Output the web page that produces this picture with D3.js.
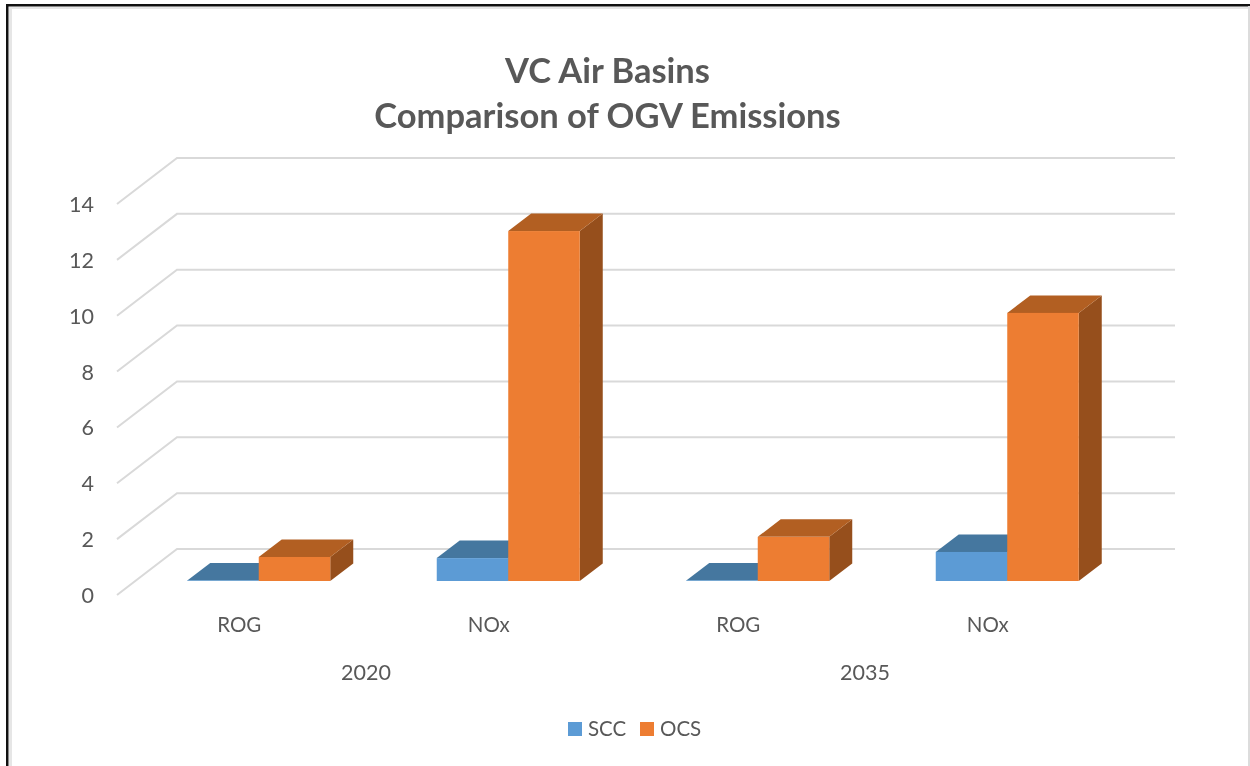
<!DOCTYPE html>
<html><head><meta charset="utf-8">
<script src="https://cdn.jsdelivr.net/npm/d3@7"></script>
<style>html,body{margin:0;padding:0;background:#fff;overflow:hidden}svg{display:block}text{font-family:Lato,"Open Sans",sans-serif}</style>
</head><body><div id="chart"></div>
<script>
const titleLines = ["VC Air Basins", "Comparison of OGV Emissions"];
const categories = ["ROG", "NOx", "ROG", "NOx"];
const years = ["2020", "2035"];
const seriesNames = ["SCC", "OCS"];
const sccValues = [0.02, 0.82, 0.02, 1.04];
const ocsValues = [0.86, 12.53, 1.58, 9.6];
const yTicks = [0, 2, 4, 6, 8, 10, 12, 14];

const W = 1250, H = 766;
const svg = d3.select("#chart").append("svg").attr("width", W).attr("height", H);
const defs = svg.append("defs");
defs.append("filter").attr("id", "soft").append("feGaussianBlur").attr("stdDeviation", 0.6);

// window frame
svg.append("rect").attr("x", 9).attr("y", 7).attr("width", 3).attr("height", H).attr("fill", "#e6e6e6");
svg.append("rect").attr("x", 9).attr("y", 7).attr("width", W).attr("height", 2).attr("fill", "#e6e6e6");
svg.append("rect").attr("x", 6).attr("y", 4).attr("width", W).attr("height", 2.5).attr("fill", "#111");
svg.append("rect").attr("x", 6).attr("y", 4).attr("width", 2.5).attr("height", H).attr("fill", "#111");
svg.append("rect").attr("x", 1248).attr("y", 6).attr("width", 2).attr("height", H).attr("fill", "#dcdcdc");

const g = svg.append("g").attr("filter", "url(#soft)");
const grey = "#595959";

const y = d3.scaleLinear().domain([0, 14]).range([581, 190]);
const x = d3.scaleBand().domain(d3.range(categories.length)).range([134, 1132]);
const barW = 71.5;
const depthX = 23, depthY = 17.5;
const wall = {xFront: 117, xBack: 177, xEnd: 1175, yFront: 14, yBack: -32};

// gridlines: side wall + back wall
g.append("g").selectAll("path").data(yTicks).join("path")
  .attr("fill", "none").attr("stroke", "#d9d9d9").attr("stroke-width", 2)
  .attr("d", v => d3.line()([
    [wall.xFront, y(v) + wall.yFront],
    [wall.xBack, y(v) + wall.yBack],
    [wall.xEnd, y(v) + wall.yBack]
  ]));

// y tick labels
g.append("g").selectAll("text").data(yTicks).join("text")
  .attr("x", 94).attr("text-anchor", "end")
  .attr("y", v => y(v) + 22)
  .attr("fill", grey).attr("font-size", 21.5).text(d => d);

function bar3d(parent, x0, value, front, top, side) {
  const yb = y(0), yt = y(value), x1 = x0 + barW;
  parent.append("path").attr("fill", side)
    .attr("d", d3.line()([[x1, yb], [x1 + depthX, yb - depthY], [x1 + depthX, yt - depthY], [x1, yt]]) + "Z");
  parent.append("path").attr("fill", top)
    .attr("d", d3.line()([[x0, yt], [x0 + depthX, yt - depthY], [x1 + depthX, yt - depthY], [x1, yt]]) + "Z");
  parent.append("rect").attr("x", x0).attr("y", yt).attr("width", barW).attr("height", yb - yt).attr("fill", front);
}

const colors = [
  {front: "#5b9bd5", top: "#44779f", side: "#3f6f9c"},
  {front: "#ed7d31", top: "#b25e20", side: "#964f1c"}
];
const bars = g.append("g");
categories.forEach((c, i) => {
  const center = x(i) + x.bandwidth() / 2;
  bar3d(bars, center - barW, sccValues[i], colors[0].front, colors[0].top, colors[0].side);
  bar3d(bars, center, ocsValues[i], colors[1].front, colors[1].top, colors[1].side);
});

// category labels
g.append("g").selectAll("text").data(categories).join("text")
  .attr("x", (d, i) => x(i) + x.bandwidth() / 2 - 19.5)
  .attr("y", 632).attr("text-anchor", "middle")
  .attr("fill", grey).attr("font-size", 20.5).text(d => d);

// year labels
g.append("g").selectAll("text").data(years).join("text")
  .attr("x", (d, i) => (x(i * 2) + x(i * 2 + 1) + x.bandwidth()) / 2 - 17.5)
  .attr("y", 680).attr("text-anchor", "middle")
  .attr("fill", grey).attr("font-size", 21.5).text(d => d);

// title
g.append("g").selectAll("text").data(titleLines).join("text")
  .attr("x", 607.5).attr("y", (d, i) => 82.5 + i * 45)
  .attr("text-anchor", "middle").attr("font-weight", 700)
  .attr("fill", grey).attr("font-size", 34.5).text(d => d);

// legend
const legendX = [568, 640];
const lg = g.append("g");
seriesNames.forEach((n, i) => {
  lg.append("rect").attr("x", legendX[i]).attr("y", 722).attr("width", 14).attr("height", 14).attr("fill", colors[i].front);
  lg.append("text").attr("x", legendX[i] + 20).attr("y", 736).attr("fill", grey).attr("font-size", 20.5).text(n);
});
</script></body></html>
